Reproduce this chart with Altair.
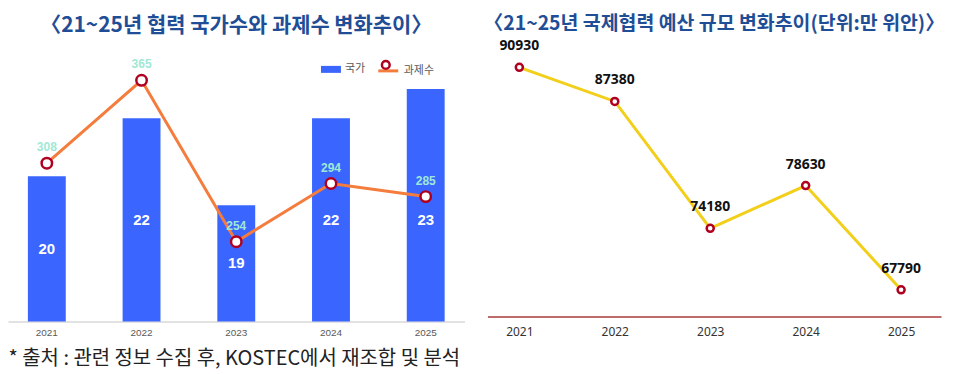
import altair as alt
import pandas as pd

years = ["2021", "2022", "2023", "2024", "2025"]
countries = [20, 22, 19, 22, 23]
projects = [308, 365, 254, 294, 285]
budget = [90930, 87380, 74180, 78630, 67790]

left_df = pd.DataFrame({"year": years, "countries": countries, "projects": projects})
right_df = pd.DataFrame({"year": years, "budget": budget})

KFONT = "Noto Sans CJK KR"
BLUE = "#3a66ff"
ORANGE = "#f47c3c"
DARKRED = "#b00020"

x_left = alt.X(
    "year:N", sort=years,
    scale=alt.Scale(paddingInner=0.6, paddingOuter=0.21),
    axis=alt.Axis(
        title="* 출처 : 관련 정보 수집 후, KOSTEC에서 재조합 및 분석",
        titleX=0, titleY=37, titleAnchor="start", titleAlign="left",
        titleBaseline="middle", titleFontSize=20, titleFontWeight="normal",
        titleColor="#222222", titleFont=KFONT,
        labelAngle=0, labelFont="Liberation Sans", labelFontSize=10,
        labelColor="#595959", labelPadding=6, ticks=False,
        domainColor="#d9d9d9", domainWidth=1.5,
    ),
)

ybar_scale = alt.Scale(domain=[15, 24.5], zero=False)
yline_scale = alt.Scale(domain=[199, 389], zero=False)

base_l = alt.Chart(left_df).transform_calculate(
    s1="'국가'", s2="'과제수'", s3="' '",
    mid="min((datum.countries + 15) / 2, 18.5)"
)

bars = base_l.mark_bar().encode(
    x=x_left,
    y=alt.Y("countries:Q", scale=ybar_scale, axis=None),
    y2=alt.datum(15),
    fill=alt.Fill("s1:N", scale=alt.Scale(range=[BLUE]), legend=alt.Legend(
        orient="none", legendX=314, legendY=14, title=None,
        symbolType="M-1,-0.35H1V0.35H-1Z", symbolSize=400, symbolStrokeWidth=0,
        labelFontSize=11, labelColor="#595959", labelFont=KFONT)),
)

bar_text = base_l.mark_text(color="white", fontSize=15, fontWeight="bold",
                            font="Liberation Sans").encode(
    x=x_left,
    y=alt.Y("mid:Q", scale=ybar_scale, axis=None),
    text="countries:Q",
)

line = base_l.mark_line(strokeWidth=3).encode(
    x=x_left,
    y=alt.Y("projects:Q", scale=yline_scale, axis=None),
    stroke=alt.Stroke("s2:N", scale=alt.Scale(range=[ORANGE]), legend=alt.Legend(
        orient="none", legendX=370, legendY=14, title=None,
        symbolType="M-1,0H1", symbolSize=400, symbolStrokeWidth=3,
        labelFontSize=11, labelColor="#595959", labelFont=KFONT)),
)

points = base_l.mark_point(fill="white", strokeWidth=2.5, size=110, opacity=1,
                           filled=False).encode(
    x=x_left,
    y=alt.Y("projects:Q", scale=yline_scale, axis=None),
    stroke=alt.Stroke("s3:N", scale=alt.Scale(range=[DARKRED]), legend=alt.Legend(
        orient="none", legendX=373.5, legendY=14, title=None,
        symbolType="circle", symbolSize=60, symbolStrokeWidth=2.5,
        symbolFillColor="white", labelFontSize=11)),
)

line_text = base_l.mark_text(dy=-16, color="#9fe8d6", fontSize=12,
                             fontWeight="bold", font="Liberation Sans").encode(
    x=x_left,
    y=alt.Y("projects:Q", scale=yline_scale, axis=None),
    text="projects:Q",
)

left = alt.layer(bars, bar_text, line, points, line_text).resolve_scale(
    y="independent", stroke="independent"
).resolve_legend(stroke="independent").properties(
    width=458, height=277,
    title=alt.TitleParams("〈21~25년 협력 국가수와 과제수 변화추이〉", fontSize=21,
                          font=KFONT, fontWeight="bold", color="#1f4e96",
                          offset=10, anchor="middle"),
)

x_right = alt.X(
    "year:N", sort=years,
    scale=alt.Scale(type="point", padding=0.376, align=0.444),
    axis=alt.Axis(title=None, labelAngle=0, labelFont="Noto Sans", labelFontSize=12,
                  labelColor="#333333", ticks=False, domainColor="#a83a3a",
                  domainWidth=1.5, labelPadding=10),
)
yr_scale = alt.Scale(domain=[65000, 93200], zero=False)

base_r = alt.Chart(right_df)
rline = base_r.mark_line(color="#f2cf1b", strokeWidth=3).encode(
    x=x_right, y=alt.Y("budget:Q", scale=yr_scale, axis=None))
rpts = base_r.mark_point(fill="white", stroke=DARKRED, strokeWidth=2.5, size=50,
                         opacity=1, filled=False).encode(
    x=x_right, y=alt.Y("budget:Q", scale=yr_scale, axis=None))
rtext = base_r.mark_text(dy=-21, color="#111111", fontSize=14, fontWeight="bold",
                         font="Noto Sans").encode(
    x=x_right, y=alt.Y("budget:Q", scale=yr_scale, axis=None), text="budget:Q")

right = alt.layer(rline, rpts, rtext).properties(
    width=455, height=272,
    title=alt.TitleParams("〈21~25년 국제협력 예산 규모 변화추이(단위:만 위안)〉", fontSize=19.5,
                          font=KFONT, fontWeight="bold", color="#1f4e96",
                          offset=5, anchor="middle"),
)

chart = alt.hconcat(left, right, spacing=19).properties(
    padding={"left": 0, "top": 5, "right": 0, "bottom": 4}
).configure_view(stroke=None)

chart.save("out.html", embed_options={"renderer": "svg", "actions": False})
